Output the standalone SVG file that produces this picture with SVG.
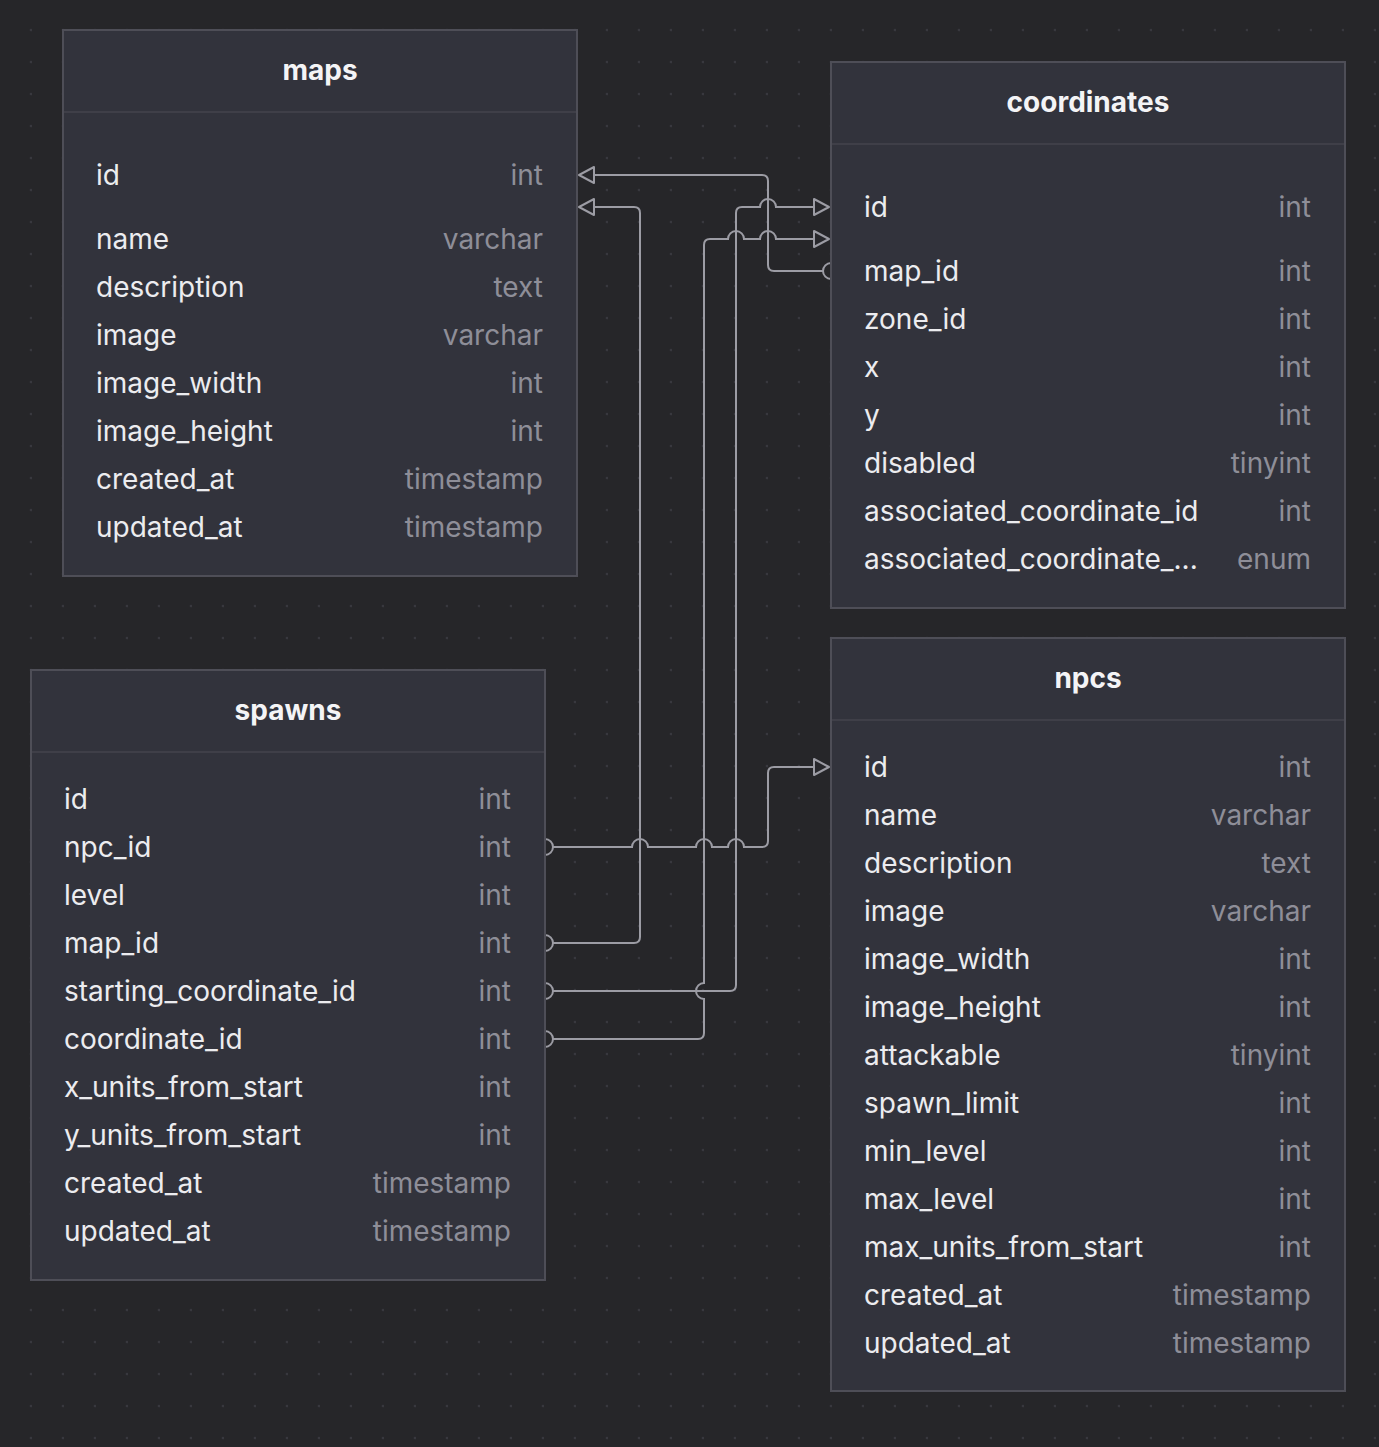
<svg xmlns="http://www.w3.org/2000/svg" width="1379" height="1447" viewBox="0 0 1379 1447">
<style>
.tbl{fill:#32333c;stroke:#4e4e57;stroke-width:2}
.hd{stroke:#3f3f48;stroke-width:2}
.title{font-family:Inter,"Noto Sans",sans-serif;font-size:28px;font-weight:700;fill:#f4f4f6;text-anchor:middle}
.f{font-family:Inter,"Noto Sans",sans-serif;font-size:28px;fill:#ececef}
.t{font-family:Inter,"Noto Sans",sans-serif;font-size:28px;fill:#8e8e98;text-anchor:end}
.c{fill:none;stroke:#9c9ca4;stroke-width:2}
.ah{fill:#27272b;stroke:#9c9ca4;stroke-width:2;stroke-linejoin:round}
</style>
<defs>
<pattern id="dots" x="0" y="0" width="32" height="32" patternUnits="userSpaceOnUse">
<circle cx="31" cy="30" r="1.3" fill="#38383e"/>
</pattern>
</defs>
<rect width="1379" height="1447" fill="#262629"/>
<rect width="1379" height="1447" fill="url(#dots)"/>

<g id="connectors">
<path class="c" d="M823,271 L774,271 Q768,271 768,265 L768,181 Q768,175 762,175 L594,175"/>
<path class="c" d="M831,263 A8,8 0 0 0 831,279"/>
<polygon class="ah" points="579,175 594,167 594,183"/>

<path class="c" d="M553,943 L634,943 Q640,943 640,937 L640,213 Q640,207 634,207 L594,207"/>
<path class="c" d="M545,935 A8,8 0 0 1 545,951"/>
<polygon class="ah" points="579,207 594,199 594,215"/>

<path class="c" d="M553,847 L632,847 A8,8 0 0 1 648,847 L696,847 A8,8 0 0 1 712,847 L728,847 A8,8 0 0 1 744,847 L762,847 Q768,847 768,841 L768,773 Q768,767 774,767 L814,767"/>
<path class="c" d="M545,839 A8,8 0 0 1 545,855"/>
<polygon class="ah" points="829,767 814,759 814,775"/>

<path class="c" d="M553,991 L730,991 Q736,991 736,985 L736,213 Q736,207 742,207 L760,207 A8,8 0 0 1 776,207 L814,207"/>
<path class="c" d="M545,983 A8,8 0 0 1 545,999"/>
<polygon class="ah" points="829,207 814,199 814,215"/>

<path class="c" d="M553,1039 L698,1039 Q704,1039 704,1033 L704,999 A8,8 0 0 1 704,983 L704,245 Q704,239 710,239 L728,239 A8,8 0 0 1 744,239 L760,239 A8,8 0 0 1 776,239 L814,239"/>
<path class="c" d="M545,1031 A8,8 0 0 1 545,1047"/>
<polygon class="ah" points="829,239 814,231 814,247"/>
</g>

<g id="maps">
<rect class="tbl" x="63" y="30" width="514" height="546"/>
<line class="hd" x1="64" y1="112" x2="576" y2="112"/>
<text class="title" x="320" y="80">maps</text>
<text class="f" x="96" y="185">id</text><text class="t" x="543" y="185">int</text>
<text class="f" x="96" y="249">name</text><text class="t" x="543" y="249">varchar</text>
<text class="f" x="96" y="297">description</text><text class="t" x="543" y="297">text</text>
<text class="f" x="96" y="345">image</text><text class="t" x="543" y="345">varchar</text>
<text class="f" x="96" y="393">image_width</text><text class="t" x="543" y="393">int</text>
<text class="f" x="96" y="441">image_height</text><text class="t" x="543" y="441">int</text>
<text class="f" x="96" y="489">created_at</text><text class="t" x="543" y="489">timestamp</text>
<text class="f" x="96" y="537">updated_at</text><text class="t" x="543" y="537">timestamp</text>
</g>

<g id="coordinates">
<rect class="tbl" x="831" y="62" width="514" height="546"/>
<line class="hd" x1="832" y1="144" x2="1344" y2="144"/>
<text class="title" x="1088" y="112">coordinates</text>
<text class="f" x="864" y="217">id</text><text class="t" x="1311" y="217">int</text>
<text class="f" x="864" y="281">map_id</text><text class="t" x="1311" y="281">int</text>
<text class="f" x="864" y="329">zone_id</text><text class="t" x="1311" y="329">int</text>
<text class="f" x="864" y="377">x</text><text class="t" x="1311" y="377">int</text>
<text class="f" x="864" y="425">y</text><text class="t" x="1311" y="425">int</text>
<text class="f" x="864" y="473">disabled</text><text class="t" x="1311" y="473">tinyint</text>
<text class="f" x="864" y="521">associated_coordinate_id</text><text class="t" x="1311" y="521">int</text>
<text class="f" x="864" y="569">associated_coordinate_...</text><text class="t" x="1311" y="569">enum</text>
</g>

<g id="spawns">
<rect class="tbl" x="31" y="670" width="514" height="610"/>
<line class="hd" x1="32" y1="752" x2="544" y2="752"/>
<text class="title" x="288" y="720">spawns</text>
<text class="f" x="64" y="809">id</text><text class="t" x="511" y="809">int</text>
<text class="f" x="64" y="857">npc_id</text><text class="t" x="511" y="857">int</text>
<text class="f" x="64" y="905">level</text><text class="t" x="511" y="905">int</text>
<text class="f" x="64" y="953">map_id</text><text class="t" x="511" y="953">int</text>
<text class="f" x="64" y="1001">starting_coordinate_id</text><text class="t" x="511" y="1001">int</text>
<text class="f" x="64" y="1049">coordinate_id</text><text class="t" x="511" y="1049">int</text>
<text class="f" x="64" y="1097">x_units_from_start</text><text class="t" x="511" y="1097">int</text>
<text class="f" x="64" y="1145">y_units_from_start</text><text class="t" x="511" y="1145">int</text>
<text class="f" x="64" y="1193">created_at</text><text class="t" x="511" y="1193">timestamp</text>
<text class="f" x="64" y="1241">updated_at</text><text class="t" x="511" y="1241">timestamp</text>
</g>

<g id="npcs">
<rect class="tbl" x="831" y="638" width="514" height="753"/>
<line class="hd" x1="832" y1="720" x2="1344" y2="720"/>
<text class="title" x="1088" y="688">npcs</text>
<text class="f" x="864" y="777">id</text><text class="t" x="1311" y="777">int</text>
<text class="f" x="864" y="825">name</text><text class="t" x="1311" y="825">varchar</text>
<text class="f" x="864" y="873">description</text><text class="t" x="1311" y="873">text</text>
<text class="f" x="864" y="921">image</text><text class="t" x="1311" y="921">varchar</text>
<text class="f" x="864" y="969">image_width</text><text class="t" x="1311" y="969">int</text>
<text class="f" x="864" y="1017">image_height</text><text class="t" x="1311" y="1017">int</text>
<text class="f" x="864" y="1065">attackable</text><text class="t" x="1311" y="1065">tinyint</text>
<text class="f" x="864" y="1113">spawn_limit</text><text class="t" x="1311" y="1113">int</text>
<text class="f" x="864" y="1161">min_level</text><text class="t" x="1311" y="1161">int</text>
<text class="f" x="864" y="1209">max_level</text><text class="t" x="1311" y="1209">int</text>
<text class="f" x="864" y="1257">max_units_from_start</text><text class="t" x="1311" y="1257">int</text>
<text class="f" x="864" y="1305">created_at</text><text class="t" x="1311" y="1305">timestamp</text>
<text class="f" x="864" y="1353">updated_at</text><text class="t" x="1311" y="1353">timestamp</text>
</g>
</svg>
